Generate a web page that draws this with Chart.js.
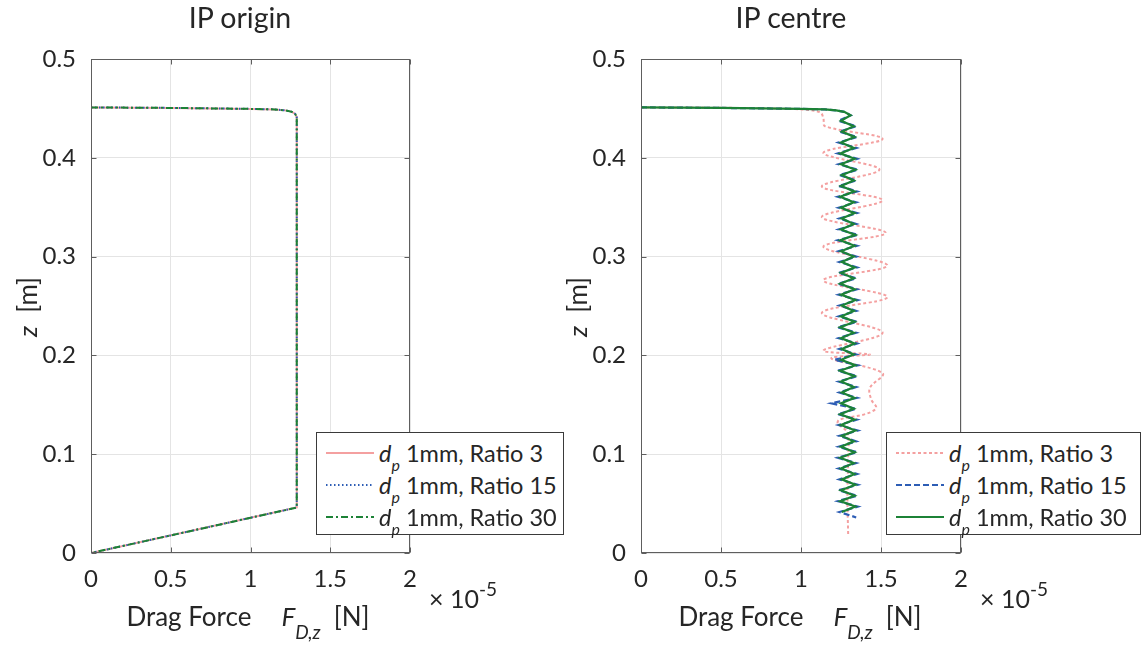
<!DOCTYPE html>
<html>
<head>
<meta charset="utf-8">
<script src="https://cdn.jsdelivr.net/npm/chart.js@4.4.1/dist/chart.umd.min.js"></script>
<style>
  html, body { margin:0; padding:0; background:#fff; }
  body { width:1145px; height:646px; position:relative; overflow:hidden; font-family: Lato, "Open Sans", sans-serif; color:#262626; }
  .cw { position:absolute; top:0; width:572px; height:646px; }
  .txt { position:absolute; white-space:nowrap; line-height:1; color:#262626; }
  .leg { position:absolute; background:#fff; border:1px solid #3a3a3a; box-sizing:border-box; }
  .row { position:absolute; left:0; height:30px; width:100%; }
  .row svg { position:absolute; left:9px; top:0; }
  .row .lt { position:absolute; left:62px; font-size:23.5px; line-height:1; white-space:nowrap; }
  .row .lt sub { font-size:16px; vertical-align:-9px; line-height:0; }
</style>
</head>
<body>
<div class="cw" style="left:0"><canvas id="cv1"></canvas></div>
<div class="cw" style="left:550px"><canvas id="cv2"></canvas></div>

<div class="txt" style="left:40px;width:400px;text-align:center;top:3px;font-size:28.5px">IP origin</div>
<div class="txt" style="left:591px;width:400px;text-align:center;top:3px;font-size:28.5px">IP centre</div>

<div class="txt" style="left:48px;width:400px;text-align:center;top:603px;font-size:26px">Drag Force<span style="display:inline-block;width:30px"></span><i>F</i><sub style="font-size:19px;vertical-align:-13px;line-height:0"><i>D,z</i></sub>&nbsp; [N]</div>
<div class="txt" style="left:600px;width:400px;text-align:center;top:603px;font-size:26px">Drag Force<span style="display:inline-block;width:30px"></span><i>F</i><sub style="font-size:19px;vertical-align:-13px;line-height:0"><i>D,z</i></sub>&nbsp; [N]</div>

<div class="txt" style="left:429px;top:586px;font-size:25px">× 10<sup style="font-size:19px;vertical-align:12px;line-height:0">-5</sup></div>
<div class="txt" style="left:980px;top:586px;font-size:25px">× 10<sup style="font-size:19px;vertical-align:12px;line-height:0">-5</sup></div>

<div class="txt" style="left:-23px;width:100px;text-align:center;top:294px;font-size:26px;transform:rotate(-90deg)"><i>z</i>&nbsp; [m]</div>
<div class="txt" style="left:527px;width:100px;text-align:center;top:294px;font-size:26px;transform:rotate(-90deg)"><i>z</i>&nbsp; [m]</div>

<div class="leg" id="leg1" style="left:316px;top:432px;width:248px;height:103px"></div>
<div class="leg" id="leg2" style="left:886px;top:432px;width:255px;height:103px"></div>

<script>
// ---------------- DATA ----------------
const xTickValues = [0, 0.5, 1, 1.5, 2];
const xTickLabels = ['0', '0.5', '1', '1.5', '2'];
const yTickValues = [0, 0.1, 0.2, 0.3, 0.4, 0.5];
const yTickLabels = ['0', '0.1', '0.2', '0.3', '0.4', '0.5'];

const seriesNames = ['1mm, Ratio 3', '1mm, Ratio 15', '1mm, Ratio 30'];

// IP origin (all three ratios coincide)
const originForceR3  = [0, 0.5, 1.0, 1.15, 1.22, 1.26, 1.28, 1.29, 1.29, 0];
const originZR3      = [0.451, 0.4505, 0.4495, 0.449, 0.448, 0.4465, 0.4445, 0.441, 0.046, 0];
const originForceR15 = [0, 0.5, 1.0, 1.15, 1.22, 1.26, 1.28, 1.29, 1.29, 0];
const originZR15     = [0.451, 0.4505, 0.4495, 0.449, 0.448, 0.4465, 0.4445, 0.441, 0.046, 0];
const originForceR30 = [0, 0.5, 1.0, 1.15, 1.22, 1.26, 1.28, 1.29, 1.29, 0];
const originZR30     = [0.451, 0.4505, 0.4495, 0.449, 0.448, 0.4465, 0.4445, 0.441, 0.046, 0];

// IP centre, Ratio 3
const centreForceR3 = [0, 0.6, 1.0, 1.12, 1.14, 1.15, 1.51, 1.14, 1.49, 1.13, 1.51, 1.13, 1.53, 1.14, 1.54, 1.14, 1.54, 1.13, 1.51, 1.14, 1.43, 1.19, 1.51, 1.43, 1.44, 1.47, 1.41, 1.24, 1.23, 1.29, 1.295, 1.29, 1.295];
const centreZR3     = [0.451, 0.4505, 0.449, 0.446, 0.440, 0.432, 0.419, 0.405, 0.388, 0.371, 0.357, 0.340, 0.324, 0.310, 0.291, 0.276, 0.259, 0.243, 0.223, 0.205, 0.201, 0.197, 0.182, 0.167, 0.155, 0.147, 0.141, 0.135, 0.131, 0.122, 0.10, 0.06, 0.017];

// IP centre, Ratio 30
const centreForceR30 = [0, 0.5, 1.0, 1.15, 1.22, 1.27, 1.31,
  1.25, 1.33, 1.255, 1.335, 1.25, 1.33, 1.245, 1.335, 1.25, 1.34,
  1.255, 1.33, 1.25, 1.335, 1.245, 1.33, 1.25, 1.335, 1.255, 1.33,
  1.25, 1.34, 1.245, 1.335, 1.25, 1.33, 1.255, 1.335, 1.25, 1.33,
  1.245, 1.335, 1.25, 1.34, 1.255, 1.33, 1.25, 1.335, 1.245, 1.33,
  1.25, 1.335, 1.255, 1.33, 1.25, 1.34, 1.245, 1.335, 1.25, 1.33,
  1.255, 1.335, 1.25, 1.33, 1.245, 1.335, 1.25, 1.34, 1.255, 1.33,
  1.25, 1.335, 1.245, 1.33, 1.25, 1.335, 1.255, 1.34, 1.25, 1.335,
  1.245, 1.34, 1.255];
const centreZR30 = [0.451, 0.4505, 0.4495, 0.449, 0.448, 0.4465, 0.443,
  0.4375, 0.432, 0.4265, 0.421, 0.4155, 0.410, 0.4045, 0.399, 0.3935, 0.388,
  0.3825, 0.377, 0.3715, 0.366, 0.3605, 0.355, 0.3495, 0.344, 0.3385, 0.333,
  0.3275, 0.322, 0.3165, 0.311, 0.3055, 0.300, 0.2945, 0.289, 0.2835, 0.278,
  0.2725, 0.267, 0.2615, 0.256, 0.2505, 0.245, 0.2395, 0.234, 0.2285, 0.223,
  0.2175, 0.212, 0.2065, 0.201, 0.1955, 0.190, 0.1845, 0.179, 0.1735, 0.168,
  0.1625, 0.157, 0.1515, 0.146, 0.1405, 0.135, 0.1295, 0.124, 0.1185, 0.113,
  0.1075, 0.102, 0.0965, 0.091, 0.0855, 0.080, 0.0745, 0.069, 0.0635, 0.058,
  0.0525, 0.047, 0.0415];

// IP centre, Ratio 15
const centreForceR15 = [0, 0.5, 1.0, 1.15, 1.22, 1.27, 1.31,
  1.235, 1.345, 1.24, 1.35, 1.235, 1.345, 1.23, 1.35, 1.235, 1.355,
  1.24, 1.345, 1.235, 1.35, 1.23, 1.345, 1.235, 1.35, 1.24, 1.345,
  1.235, 1.355, 1.23, 1.35, 1.235, 1.345, 1.24, 1.35, 1.235, 1.345,
  1.23, 1.35, 1.235, 1.355, 1.24, 1.345, 1.235, 1.35, 1.23, 1.345,
  1.235, 1.35, 1.24, 1.345, 1.21, 1.355, 1.23, 1.35, 1.235, 1.345,
  1.24, 1.35, 1.19, 1.345, 1.23, 1.35, 1.235, 1.355, 1.24, 1.345,
  1.235, 1.35, 1.23, 1.345, 1.235, 1.35, 1.24, 1.355, 1.235, 1.35,
  1.23, 1.355, 1.24, 1.345];
const centreZR15 = [0.451, 0.4505, 0.4495, 0.449, 0.448, 0.4465, 0.443,
  0.4375, 0.432, 0.4265, 0.421, 0.4155, 0.410, 0.4045, 0.399, 0.3935, 0.388,
  0.3825, 0.377, 0.3715, 0.366, 0.3605, 0.355, 0.3495, 0.344, 0.3385, 0.333,
  0.3275, 0.322, 0.3165, 0.311, 0.3055, 0.300, 0.2945, 0.289, 0.2835, 0.278,
  0.2725, 0.267, 0.2615, 0.256, 0.2505, 0.245, 0.2395, 0.234, 0.2285, 0.223,
  0.2175, 0.212, 0.2065, 0.201, 0.1955, 0.190, 0.1845, 0.179, 0.1735, 0.168,
  0.1625, 0.157, 0.1515, 0.146, 0.1405, 0.135, 0.1295, 0.124, 0.1185, 0.113,
  0.1075, 0.102, 0.0965, 0.091, 0.0855, 0.080, 0.0745, 0.069, 0.0635, 0.058,
  0.0525, 0.047, 0.0415, 0.036];

// ---------------- STYLE ----------------
const PINK = '#f4a0a0', BLUE = '#2d5db5', GREEN = '#1c8236';
const FONT = 'Lato, "Open Sans", sans-serif';
const TEXT = '#262626';

const pts = (xs, zs) => xs.map((v, i) => ({x: v, y: zs[i]}));

const boxPlugin = {
  id: 'boxPlugin',
  afterDraw(chart) {
    const {ctx, chartArea: a, scales: {x, y}} = chart;
    const L = Math.round(a.left) + 0.5, R = Math.round(a.right) - 0.5;
    const T = Math.round(a.top) + 0.5, B = Math.round(a.bottom) - 0.5;
    ctx.save();
    ctx.strokeStyle = '#5e5e5e';
    ctx.lineWidth = 1;
    ctx.strokeRect(L, T, R - L, B - T);
    ctx.beginPath();
    xTickValues.forEach(v => {
      const px = Math.round(x.getPixelForValue(v)) + 0.5;
      ctx.moveTo(px, B); ctx.lineTo(px, B - 5);
      ctx.moveTo(px, T); ctx.lineTo(px, T + 5);
    });
    yTickValues.forEach(v => {
      const py = Math.round(y.getPixelForValue(v)) + 0.5;
      ctx.moveTo(L, py); ctx.lineTo(L + 5, py);
      ctx.moveTo(R, py); ctx.lineTo(R - 5, py);
    });
    ctx.stroke();
    ctx.restore();
  }
};

function makeOptions(rightPad) {
  return {
    responsive: true,
    maintainAspectRatio: false,
    animation: false,
    devicePixelRatio: 1,
    layout: { padding: { left: 0, top: 59, right: rightPad, bottom: 0 } },
    plugins: { legend: { display: false }, tooltip: { enabled: false }, title: { display: false } },
    elements: { point: { radius: 0 } },
    scales: {
      x: {
        type: 'linear', min: 0, max: 2,
        afterFit: s => { s.height = 93; },
        afterBuildTicks: s => { s.ticks = xTickValues.map(v => ({value: v})); },
        ticks: { callback: (v, i) => xTickLabels[i], font: { family: FONT, size: 24 }, color: TEXT, padding: 12, maxRotation: 0, autoSkip: false },
        grid: { color: '#e4e4e4', drawTicks: false, lineWidth: 1 },
        border: { display: false }
      },
      y: {
        type: 'linear', min: 0, max: 0.5,
        afterFit: s => { s.width = 91; },
        afterBuildTicks: s => { s.ticks = yTickValues.map(v => ({value: v})); },
        ticks: { callback: (v, i) => yTickLabels[i], font: { family: FONT, size: 24 }, color: TEXT, padding: 15, autoSkip: false },
        grid: { color: '#e4e4e4', drawTicks: false, lineWidth: 1 },
        border: { display: false }
      }
    }
  };
}

new Chart(document.getElementById('cv1'), {
  type: 'line',
  data: {
    datasets: [
      { label: seriesNames[2], data: pts(originForceR30, originZR30), borderColor: GREEN, borderWidth: 2, borderDash: [7, 3, 2, 3], fill: false, tension: 0, order: 1 },
      { label: seriesNames[1], data: pts(originForceR15, originZR15), borderColor: BLUE, borderWidth: 2, borderDash: [1.5, 2.5], fill: false, tension: 0, order: 2 },
      { label: seriesNames[0], data: pts(originForceR3, originZR3), borderColor: PINK, borderWidth: 2, fill: false, tension: 0, order: 3 }
    ]
  },
  options: makeOptions(572 - 410),
  plugins: [boxPlugin]
});

new Chart(document.getElementById('cv2'), {
  type: 'line',
  data: {
    datasets: [
      { label: seriesNames[2], data: pts(centreForceR30, centreZR30), borderColor: GREEN, borderWidth: 2.2, fill: false, tension: 0, order: 1 },
      { label: seriesNames[1], data: pts(centreForceR15, centreZR15), borderColor: BLUE, borderWidth: 2.2, borderDash: [6, 3], fill: false, tension: 0, order: 2 },
      { label: seriesNames[0], data: pts(centreForceR3, centreZR3), borderColor: PINK, borderWidth: 2, borderDash: [3, 2.5], fill: false, tension: 0.35, order: 3 }
    ]
  },
  options: makeOptions(572 - 411),
  plugins: [boxPlugin]
});

// ---------------- LEGENDS ----------------
function buildLegend(id, styles) {
  const el = document.getElementById(id);
  const tops = [20, 52, 84];
  styles.forEach((st, i) => {
    const row = document.createElement('div');
    row.className = 'row';
    row.style.top = (tops[i] - 15) + 'px';
    const dash = st.dash ? ` stroke-dasharray="${st.dash}"` : '';
    row.innerHTML = `<svg width="50" height="30"><line x1="0" y1="15" x2="48" y2="15" stroke="${st.color}" stroke-width="2"${dash}/></svg>` +
      `<span class="lt" style="top:4px"><i>d</i><sub><i>p</i></sub> ${seriesNames[i]}</span>`;
    el.appendChild(row);
  });
}
buildLegend('leg1', [
  { color: PINK, dash: null },
  { color: BLUE, dash: '1.5,2.5' },
  { color: GREEN, dash: '7,3,2,3' }
]);
buildLegend('leg2', [
  { color: PINK, dash: '3,2.5' },
  { color: BLUE, dash: '6,3' },
  { color: GREEN, dash: null }
]);
</script>
</body>
</html>
